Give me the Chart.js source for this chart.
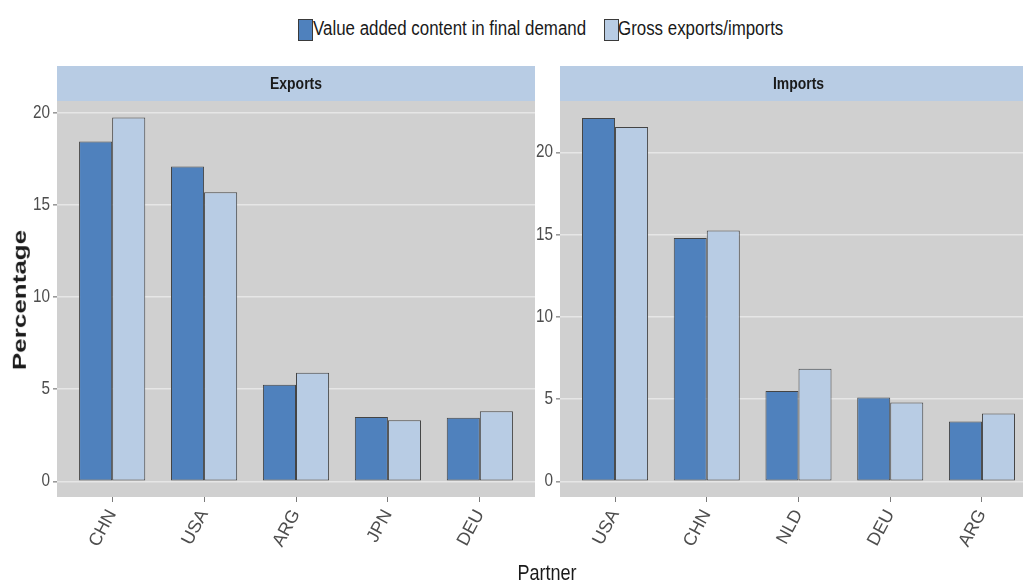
<!DOCTYPE html>
<html lang="en">
<head>
<meta charset="UTF-8">
<title>Value added vs gross trade</title>
<script src="https://cdn.jsdelivr.net/npm/chart.js"></script>
<style>
  body { margin: 0; width: 1023px; height: 587px; overflow: hidden; background: #fff; position: relative;
         font-family: "Liberation Sans", Arial, sans-serif; }
  .box { position: absolute; }
  .key { position: absolute; width: 13px; height: 20px; border: 1px solid #3a3a3a; top: 19px; }
  .keytxt { position: absolute; top: 17px; font-size: 20px; color: #1a1a1a; white-space: nowrap;
            transform: scaleX(0.845); transform-origin: left center; }
  #ytitle { position: absolute; left: 20px; top: 300px; font-weight: bold; font-size: 26px; color: #1a1a1a;
            white-space: nowrap; transform: translate(-50%, -50%) rotate(-90deg) scaleY(0.72); }
  #xtitle { position: absolute; left: 547px; top: 560px; font-size: 22px; color: #1a1a1a;
            transform: translateX(-50%) scaleX(0.82); white-space: nowrap; }
</style>
</head>
<body>
  <!-- legend -->
  <div class="key" style="left:298px;background:#4F81BD"></div>
  <div class="keytxt" style="left:313px">Value added content in final demand</div>
  <div class="key" style="left:604px;background:#B8CCE4"></div>
  <div class="keytxt" style="left:618px">Gross exports/imports</div>

  <div class="box" style="left:0;top:66px;width:535px;height:521px"><canvas id="exportsChart"></canvas></div>
  <div class="box" style="left:515px;top:66px;width:522px;height:521px"><canvas id="importsChart"></canvas></div>

  <div id="ytitle">Percentage</div>
  <div id="xtitle">Partner</div>

<script>
// data (percent)
const exportPartners = ["CHN", "USA", "ARG", "JPN", "DEU"];
const exportValueAdded = [18.45, 17.1, 5.25, 3.5, 3.45];
const exportGross = [19.75, 15.7, 5.9, 3.32, 3.8];

const importPartners = ["USA", "CHN", "NLD", "DEU", "ARG"];
const importValueAdded = [22.1, 14.8, 5.5, 5.1, 3.64];
const importGross = [21.55, 15.25, 6.85, 4.8, 4.12];

const yTicks = [0, 5, 10, 15, 20];
const seriesNames = ["Value added content in final demand", "Gross exports/imports"];

const textFont = "'Liberation Sans', Arial, sans-serif";

// grey panel + blue strip, ggplot style
const panelPlugin = {
    id: "panel",
    beforeDraw(chart, args, opts) {
        const a = chart.chartArea;
        const ctx = chart.ctx;
        ctx.save();
        ctx.fillStyle = "#D0D0D0";
        ctx.fillRect(a.left, a.top, a.right - a.left, a.bottom - a.top);
        ctx.fillStyle = "#B8CCE4";
        ctx.fillRect(a.left, 0, a.right - a.left, a.top);
        ctx.fillStyle = "#1a1a1a";
        ctx.font = "bold 17px " + textFont;
        ctx.textAlign = "center";
        ctx.textBaseline = "middle";
        ctx.translate((a.left + a.right) / 2, a.top / 2 + 1);
        ctx.scale(0.82, 1);
        ctx.fillText(opts.label, 0, 0);
        ctx.restore();

        // narrow the horizontal tick text like the original (condensed look)
        const orig = ctx.fillText;
        ctx._origFill = orig;
        ctx.fillText = function (t, x, y, mw) {
            if (this.getTransform().b !== 0) { orig.call(this, t, x, y); return; }
            this.save();
            this.translate(x, y);
            this.scale(0.85, 1);
            orig.call(this, t, 0, 0);
            this.restore();
        };
    },
    afterDraw(chart) {
        const ctx = chart.ctx;
        if (ctx._origFill) { ctx.fillText = ctx._origFill; delete ctx._origFill; }
    }
};

function makeChart(id, label, partners, va, gross, yMin, yMax, yWidth) {
    return new Chart(document.getElementById(id), {
        type: "bar",
        data: {
            datasets: [
                { label: seriesNames[0], data: va.map((v, i) => ({ x: i + 1, y: v })), backgroundColor: "#4F81BD" },
                { label: seriesNames[1], data: gross.map((v, i) => ({ x: i + 1, y: v })), backgroundColor: "#B8CCE4" }
            ]
        },
        options: {
            responsive: true,
            maintainAspectRatio: false,
            animation: false,
            layout: { padding: { top: 35, left: 0, right: 0, bottom: 0 } },
            datasets: {
                bar: {
                    categoryPercentage: 0.72,
                    barPercentage: 1,
                    borderColor: "#444",
                    borderWidth: 1,
                    borderSkipped: false
                }
            },
            plugins: {
                legend: { display: false },
                tooltip: { enabled: false },
                panel: { label: label }
            },
            scales: {
                x: {
                    type: "linear",
                    min: 0.4,
                    max: partners.length + 0.6,
                    offset: false,
                    grid: { offset: false, drawOnChartArea: false, tickLength: 5, tickColor: "#7a7a7a" },
                    border: { display: false },
                    ticks: {
                        color: "#4D4D4D",
                        font: { family: textFont, size: 18 },
                        minRotation: 62,
                        maxRotation: 62,
                        padding: 4,
                        callback: v => partners[Math.round(v) - 1]
                    },
                    afterBuildTicks(s) { s.ticks = partners.map((p, i) => ({ value: i + 1 })); },
                    afterFit(s) { s.height = 90; }
                },
                y: {
                    min: yMin,
                    max: yMax,
                    grid: { color: "#E6E6E6", lineWidth: 1.6, tickLength: 4, tickColor: "#9a9a9a" },
                    border: { display: false },
                    ticks: {
                        color: "#4D4D4D",
                        font: { family: textFont, size: 18 },
                        padding: 3
                    },
                    afterBuildTicks(s) { s.ticks = yTicks.map(v => ({ value: v })); },
                    afterFit(s) { s.width = yWidth; }
                }
            }
        },
        plugins: [panelPlugin]
    });
}

makeChart("exportsChart", "Exports", exportPartners, exportValueAdded, exportGross, -0.85, 20.65, 57);
makeChart("importsChart", "Imports", importPartners, importValueAdded, importGross, -0.95, 23.13, 45);
</script>
</body>
</html>
